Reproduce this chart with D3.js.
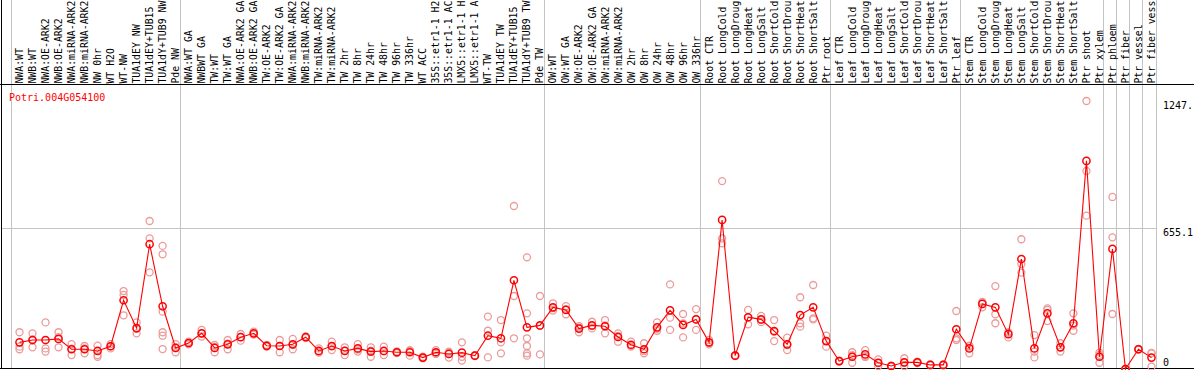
<!DOCTYPE html>
<html>
<head>
<meta charset="utf-8">
<script src="https://cdn.jsdelivr.net/npm/d3@7"></script>
<style>
html,body{margin:0;padding:0;background:#fff;}
svg{display:block;}
text{font-family:"DejaVu Sans Mono","Liberation Mono",monospace;font-size:10px;}
text.cat{font-size:9.85px;}
</style>
</head>
<body>
<div id="chart"></div>
<script>
const geneTitle = "Potri.004G054100";

const categories = [
  "NWA:WT","NWB:WT","NWA:OE-ARK2","NWB:OE-ARK2","NWA:miRNA-ARK2","NWB:miRNA-ARK2","NW 0hr","WT H2O","WT-NW","TUA1dEY NW","TUA1dEY+TUB15","TUA1dY+TUB9 NW","Pde NW",
  "NWA:WT GA","NWBWT GA","TW:WT","TW:WT GA","NWA:OE-ARK2 GA","NWB:OE-ARK2 GA","TW:OE-ARK2","TW:OE-ARK2 GA","NWA:miRNA-ARK2","NWB:miRNA-ARK2","TW:miRNA-ARK2","TW:miRNA-ARK2","TW 2hr","TW 8hr","TW 24hr","TW 48hr","TW 96hr","TW 336hr","WT ACC","35S::etr1-1 H2","35S::etr1-1 AC","LMX5::etr1-1 H","LMX5::etr1-1 A","WT-TW","TUA1dEY TW","TUA1dEY+TUB15","TUA1dY+TUB9 TW","Pde TW",
  "OW:WT","OW:WT GA","OW:OE-ARK2","OW:OE-ARK2 GA","OW:miRNA-ARK2","OW:miRNA-ARK2","OW 2hr","OW 8hr","OW 24hr","OW 48hr","OW 96hr","OW 336hr",
  "Root CTR","Root LongCold","Root LongDroug","Root LongHeat","Root LongSalt","Root ShortCold","Root ShortDrou","Root ShortHeat","Root ShortSalt","Ptr root",
  "Leaf CTR","Leaf LongCold","Leaf LongDroug","Leaf LongHeat","Leaf LongSalt","Leaf ShortCold","Leaf ShortDrou","Leaf ShortHeat","Leaf ShortSalt","Ptr leaf",
  "Stem CTR","Stem LongCold","Stem LongDroug","Stem LongHeat","Stem LongSalt","Stem ShortCold","Stem ShortDrou","Stem ShortHeat","Stem ShortSalt","Ptr shoot","Ptr xylem",
  "Ptr phloem","Ptr fiber","Ptr vessel","Ptr fiber vess"
];

const groupSizes = [13, 28, 12, 10, 10, 11, 1, 1, 1, 1];

const meanValues = [
  124,135,135,140,92,92,84,106,320,190,581,292,98,
  121,166,98,115,148,166,108,107,115,148,84,107,84,96,81,84,78,78,53,78,70,76,62,155,143,413,194,203,
  287,275,188,203,199,149,113,92,194,273,205,231,
  124,694,62,241,231,177,115,251,287,130,
  37,57,68,29,14,31,31,19,19,185,
  96,303,287,162,512,96,259,101,213,969,57,
  559,0,92,53
];

const replicateValues = [
  [171,104,92],[166,138,101],[217,96,81],[171,148,101],[116,95,65],[107,96,73],[109,65,57],[116,106,96],[363,345,250],[217,187,166],[689,608,450],[573,534,267,171,155,93],[116,100,78],
  [115,121,127],[182,165,151],[112,104,78],[135,118,92],[163,149,132],[174,160,164],[112,104,108],[135,108,78],[140,113,92],[152,145,147],[96,80,76],[127,106,88],[101,86,65],[116,91,81],[101,85,57],[104,83,65],[82,78,74],[88,84,62],[57,50,52],[88,76,70],[81,76,53],[124,57,39],[60,62,64],[244,178,54],[228,124,73],[759,340,143],[520,259,143,107,73,62],[340,201,68],
  [306,283,272],[293,277,255],[200,193,171],[220,200,189],[228,203,166],[166,154,127],[127,108,104],[120,83,73],[217,187,178],[394,239,182],[256,212,147],[279,232,182],
  [135,122,115],[875,608,585],[60,62,64],[275,240,208],[247,228,218],[228,173,130],[146,111,88],[334,213,197],[391,236,231],[155,131,104],
  [37,35,39],[78,64,29],[88,60,56],[45,28,14],[12,14,16],[50,29,14],[34,31,28],[17,19,21],[17,19,21],[270,143,135],
  [108,107,73],[312,310,287],[386,255,213],[170,169,147],[604,489,449],[158,81,54],[282,275,223],[120,102,81],[259,202,178],[1247.8,922,714],[76,66,29],
  [801,613,256],[0,0,0],[90,92,94],[75,73,11]
];

const axisMax = 1247.8;
const axisTickLabels = ["1247.", "655.1", "0"];
const axisTickValues = [1247.8, 655.1, 0];

const W = 1194, H = 370;
const svg = d3.select("#chart").append("svg").attr("width", W).attr("height", H);

const x = d3.scaleBand().domain(d3.range(categories.length)).range([10.5, 1155.5]).paddingInner(0).paddingOuter(0);
const cx = i => x(i) + 9;
const y = d3.scaleLinear().domain([0, axisMax * 1.05]).range([369, 87.6]);

// group separators
let starts = [0];
groupSizes.forEach(s => starts.push(starts[starts.length - 1] + s));
const sepX = starts.map(s => s < categories.length ? x(s) : x.range()[1]);
svg.append("g").selectAll("line").data(sepX).join("line")
  .attr("x1", d => Math.round(d) + 0.5).attr("x2", d => Math.round(d) + 0.5)
  .attr("y1", 0).attr("y2", 368)
  .attr("stroke", "#c4c4c4").attr("stroke-width", 1);

// mid gridline
svg.append("line")
  .attr("x1", 1).attr("x2", 1156)
  .attr("y1", Math.round(y(655.1)) + 0.5).attr("y2", Math.round(y(655.1)) + 0.5)
  .attr("stroke", "#c4c4c4").attr("stroke-width", 1);

// frame lines
svg.append("line").attr("x1", 0).attr("x2", W).attr("y1", 84.5).attr("y2", 84.5).attr("stroke", "#000");
svg.append("line").attr("x1", 0).attr("x2", W).attr("y1", 368.5).attr("y2", 368.5).attr("stroke", "#000");
svg.append("line").attr("x1", 1.5).attr("x2", 1.5).attr("y1", 0).attr("y2", 369).attr("stroke", "#000");

// category labels
svg.append("g").selectAll("text").data(categories).join("text")
  .attr("class", "cat")
  .attr("transform", (d, i) => `translate(${cx(i) + 3.5},83.6) rotate(-90)`)
  .attr("text-anchor", "start")
  .attr("fill", "#000")
  .text(d => d);

// right axis labels
svg.append("g").selectAll("text").data(axisTickValues).join("text")
  .attr("x", 1163)
  .attr("y", (d, i) => i === 2 ? 366 : y(d) + 8)
  .attr("fill", "#000")
  .text((d, i) => axisTickLabels[i]);

// title
svg.append("text").attr("x", 9).attr("y", 100.5).attr("fill", "#ff0000").text(geneTitle);

// replicate points
const reps = [];
replicateValues.forEach((arr, i) => arr.forEach(v => reps.push({i, v})));
svg.append("g").selectAll("circle").data(reps).join("circle")
  .attr("cx", d => cx(d.i)).attr("cy", d => y(d.v)).attr("r", 3.5)
  .attr("fill", "none").attr("stroke", "#ec9a9a").attr("stroke-width", 1.3);

// mean line
const line = d3.line().x((d, i) => cx(i)).y(d => y(d));
svg.append("path").datum(meanValues).attr("d", line)
  .attr("fill", "none").attr("stroke", "#ff0000").attr("stroke-width", 1.1);

// mean points
svg.append("g").selectAll("circle").data(meanValues).join("circle")
  .attr("cx", (d, i) => cx(i)).attr("cy", d => y(d)).attr("r", 3.6)
  .attr("fill", "none").attr("stroke", "#ff0000").attr("stroke-width", 1.5);
</script>
</body>
</html>
